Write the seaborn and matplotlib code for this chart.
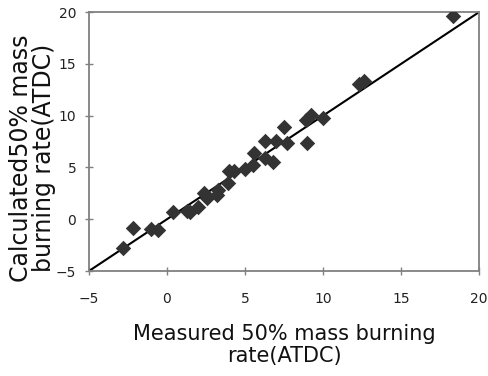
import matplotlib
matplotlib.use("Agg")
import matplotlib.pyplot as plt
import seaborn as sns
import pandas as pd
import numpy as np

measured = [-2.8, -2.2, -1.0, -0.6, 0.4, 1.3, 1.5, 2.0, 2.4, 2.6, 3.2, 3.3, 3.9, 4.0,
            4.3, 5.0, 5.5, 5.6, 6.3, 6.3, 6.8, 7.0, 7.5, 7.7, 9.0, 8.9, 9.2, 10.0,
            12.3, 12.6, 18.3]
calculated = [-2.8, -0.8, -0.9, -1.0, 0.7, 0.8, 0.7, 1.2, 2.5, 2.1, 2.3, 2.8, 3.5, 4.7,
              4.7, 4.9, 5.2, 6.4, 7.6, 5.9, 5.5, 7.6, 8.9, 7.4, 7.4, 9.6, 10.1, 9.8,
              13.1, 13.3, 19.6]
line_pts = [-5, 20]
ticks = [-5, 0, 5, 10, 15, 20]
tick_labels = ["\u22125", "0", "5", "10", "15", "20"]

sns.set_theme(style="white")
plt.rcParams['font.family'] = ['DejaVu Sans']

df = pd.DataFrame({"measured": measured, "calculated": calculated})

fig = plt.figure(figsize=(4.88, 3.76), dpi=100)
ax = fig.add_axes([0.182, 0.279, 0.800, 0.689])

sns.lineplot(x=line_pts, y=line_pts, ax=ax, color="black", linewidth=1.5)
sns.scatterplot(data=df, x="measured", y="calculated", ax=ax, marker="D",
                s=62, color="#333333", edgecolor="#333333", linewidth=0, zorder=3)

ax.set_xlim(-5, 20)
ax.set_ylim(-5, 20)
ax.set_xticks(ticks)
ax.set_yticks(ticks)
ax.set_xticklabels(tick_labels)
ax.set_yticklabels(tick_labels)
for sp in ax.spines.values():
    sp.set_color("#808080")
    sp.set_linewidth(1.3)
ax.tick_params(axis="both", direction="inout", length=6, width=1, color="#808080",
               labelsize=10, labelcolor="#222222", bottom=True, left=True, pad=6)
ax.tick_params(axis="x", pad=12)

ax.set_xlabel("Measured 50% mass burning\nrate(ATDC)", fontsize=15, color="#111111",
              linespacing=1.1)
ax.set_ylabel("Calculated50% mass\nburning rate(ATDC)", fontsize=17, color="#111111",
              linespacing=0.95)
ax.xaxis.set_label_coords(0.5, -0.205)
ax.yaxis.set_label_coords(-0.084, 0.436)

fig.savefig("out.png", dpi=100)
